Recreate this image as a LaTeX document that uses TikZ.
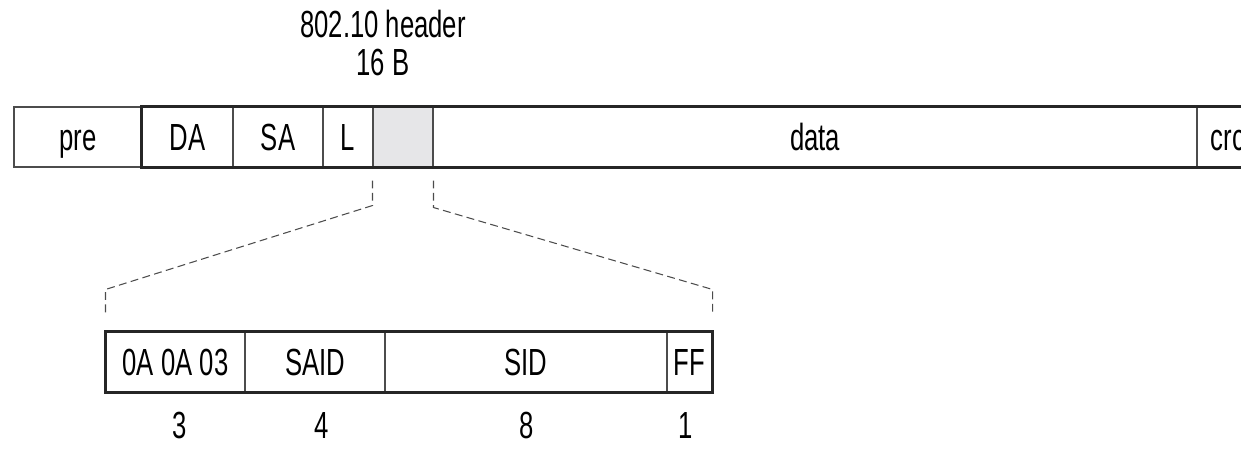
\documentclass[tikz,border=0pt]{standalone}
\usepackage{fontspec}
\setmainfont{Liberation Sans}[FakeStretch=0.68]
\usetikzlibrary{calc}
\definecolor{secgray}{RGB}{230,230,232}
\begin{document}
\begin{tikzpicture}
			[x=0.02cm,y=-0.02cm,font=\fontsize{21.5}{22}\selectfont,
			field/.style={draw=black!70,line width=0.6pt,minimum height=1.2cm,inner sep=0pt,text height=15.7pt,text depth=0pt},
			frame/.style={draw=black!85,line width=1.7pt},
			link/.style={draw=black!70,line width=0.6pt,dash pattern=on 4.5pt off 2.5pt}]
			\useasboundingbox (0,0) rectangle (1241,450);
			\clip (0,0) rectangle (1241,450);
			\node[align=center] (hdr) at (383,43) {802.10 header\\16 B};
			% frame
			\node[field,minimum width=2.56cm] (pre) at (78,137) {pre};
			\node[field,minimum width=1.82cm] (da) at (187.5,137) {DA};
			\node[field,minimum width=1.8cm] (sa) at (278,137) {SA};
			\node[field,minimum width=1cm] (len) at (348,137) {L};
			\node[field,minimum width=1.2cm,fill=secgray] (sec) at (403,137) {};
			\node[field,minimum width=15.28cm] (data) at (815,137) {data};
			\node[field,minimum width=1.24cm] (crc) at (1228,137) {crc};
			\draw[frame] (da.north west) rectangle (crc.south east);
			% 802.10 header
			\node[field,minimum width=2.78cm] (llc) at (175.5,362) {0A 0A 03};
			\node[field,minimum width=2.8cm] (said) at (315,362) {SAID};
			\node[field,minimum width=5.64cm] (sid) at (526,362) {SID};
			\node[field,minimum width=0.9cm] (ff) at (689.5,362) {FF};
			\draw[frame] (llc.north west) rectangle (ff.south east);
			\node (n3) at (180,425) {3};
			\node (n4) at (322,425) {4};
			\node (n8) at (527,425) {8};
			\node (n1) at (686,425) {1};
			\draw[link] ($(sec.south west)+(0,13)$) -- ++(0,25) -- ($(llc.north west)+(0,-42)$) -- ($(llc.north west)+(0,-16)$);
			\draw[link] ($(sec.south east)+(0,13)$) -- ++(0,27) -- ($(ff.north east)+(0,-42)$) -- ($(ff.north east)+(0,-16)$);
		\end{tikzpicture}
\end{document}
